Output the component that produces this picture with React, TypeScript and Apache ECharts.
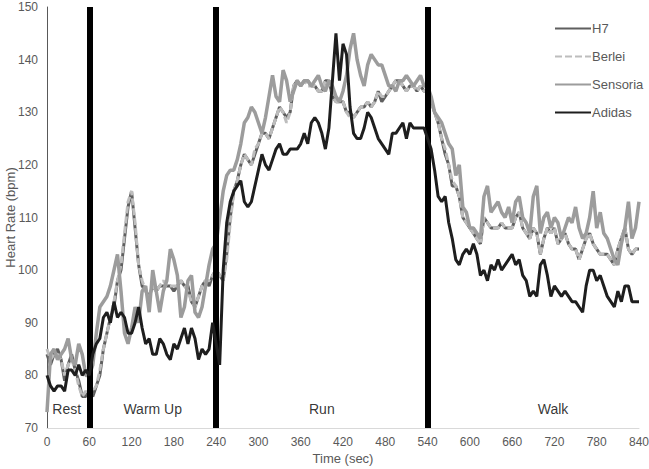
import React, { useEffect, useRef } from "react";
import * as echarts from "echarts";

// Samples every 5 seconds, one row per minute (12 values), then the final value at 840 s
const STEP = 5;

const h7 = [
  84, 82, 84, 85, 83, 79, 82, 84, 81, 79, 76, 76,
  77, 76, 78, 80, 85, 88, 91, 93, 98, 100, 106, 112,
  115, 108, 101, 97, 96, 95, 97, 96, 97, 97, 97, 97,
  96, 97, 98, 97, 97, 94, 93, 95, 97, 98, 97, 99,
  100, 99, 98, 103, 110, 115, 117, 120, 122, 121, 120, 122,
  124, 126, 126, 125, 127, 129, 131, 130, 129, 130, 135, 136,
  135, 136, 136, 135, 135, 134, 134, 136, 136, 133, 132, 132,
  132, 130, 130, 129, 130, 131, 131, 132, 131, 132, 134, 132,
  133, 134, 135, 136, 136, 135, 134, 135, 135, 134, 135, 134,
  134, 132, 130, 128, 125, 122, 120, 116, 116, 114, 110, 109,
  108, 107, 106, 105, 110, 109, 108, 108, 108, 109, 108, 108,
  108, 110, 111, 108, 107, 106, 108, 107, 103, 106, 108, 107,
  108, 105, 106, 107, 105, 104, 104, 102, 104, 106, 107, 105,
  104, 103, 103, 103, 102, 101, 104, 106, 108, 104, 103, 104,
  104,
];

const berlei = [
  85, 83, 84, 84, 83, 80, 82, 83, 81, 78, 76, 77,
  76, 77, 78, 81, 85, 88, 91, 94, 98, 101, 107, 113,
  115, 109, 101, 98, 96, 95, 97, 96, 97, 98, 97, 97,
  97, 97, 98, 97, 96, 94, 93, 95, 97, 98, 98, 99,
  100, 99, 98, 102, 109, 115, 117, 120, 122, 121, 120, 123,
  124, 126, 126, 125, 127, 129, 131, 130, 128, 130, 135, 136,
  135, 136, 135, 135, 135, 134, 134, 136, 136, 133, 132, 132,
  132, 130, 129, 129, 130, 131, 131, 132, 131, 132, 134, 133,
  133, 134, 135, 136, 136, 135, 134, 135, 135, 134, 135, 134,
  134, 132, 130, 128, 125, 123, 120, 117, 116, 114, 110, 109,
  108, 107, 106, 105, 110, 109, 108, 108, 108, 109, 108, 108,
  108, 110, 111, 108, 107, 106, 108, 107, 103, 106, 108, 107,
  108, 105, 106, 107, 105, 104, 104, 102, 104, 106, 107, 105,
  104, 103, 103, 103, 102, 101, 104, 106, 108, 104, 103, 104,
  104,
];

const sensoria = [
  73, 84, 85, 83, 84, 85, 87, 83, 82, 86, 84, 80,
  80, 82, 88, 93, 94, 95, 97, 100, 103, 96, 88, 86,
  89, 93, 90, 96, 97, 92, 100, 96, 92, 96, 98, 104,
  102, 99, 91, 93, 98, 99, 92, 91, 93, 97, 101, 104,
  105, 110, 115, 118, 119, 119, 121, 124, 128, 129, 131, 130,
  128, 126, 129, 133, 137, 133, 132, 138, 136, 132, 134, 136,
  135, 136, 136, 135, 136, 137, 135, 134, 136, 135, 133, 132,
  134, 137, 142, 145, 140, 137, 135, 139, 141, 140, 139, 139,
  137, 135, 135, 134, 136, 136, 137, 136, 135, 136, 137, 135,
  135, 133, 130, 129, 128, 126, 124, 123, 118, 120, 112, 111,
  108, 108, 107, 106, 114, 116, 111, 112, 113, 111, 110, 112,
  109, 113, 114, 110, 109, 107, 114, 116, 107, 110, 111, 108,
  110, 109, 106, 108, 110, 109, 112, 108, 106, 107, 110, 115,
  108, 111, 107, 106, 104, 102, 101, 105, 108, 113, 106, 108,
  113,
];

const adidas = [
  80, 78, 77, 78, 78, 77, 81, 81, 80, 82, 80, 81,
  80, 84, 86, 87, 91, 92, 90, 94, 91, 92, 91, 88,
  88, 90, 93, 89, 86, 87, 84, 84, 87, 86, 84, 83,
  86, 85, 87, 89, 86, 89, 87, 83, 85, 84, 85, 90,
  86, 82, 100, 109, 113, 115, 116, 117, 113, 112, 113, 116,
  119, 122, 120, 119, 121, 123, 124, 122, 122, 123, 123, 123,
  124, 126, 124, 128, 129, 128, 126, 123, 127, 136, 145, 136,
  143, 141, 131, 126, 125, 125, 127, 130, 129, 127, 125, 124,
  123, 122, 126, 126, 127, 128, 125, 128, 127, 127, 127, 127,
  125, 123, 119, 114, 113, 114, 109, 106, 102, 101, 103, 104,
  103, 105, 103, 99, 100, 98, 101, 100, 102, 100, 101, 102,
  103, 101, 102, 99, 98, 95, 96, 95, 101, 102, 99, 95,
  97, 96, 95, 96, 95, 94, 94, 93, 92, 97, 100, 100,
  98, 99, 97, 95, 94, 93, 96, 94, 97, 97, 94, 94,
  94,
];

const phaseBoundaries = [60, 240, 540];
const phaseNames = ["Rest", "Warm Up", "Run", "Walk"];
const phaseCenters = [28, 150, 390, 718];

const toPoints = (vals: number[]) => vals.map((v, i) => [i * STEP, v]);

const FONT = "Liberation Sans, Arial, sans-serif";

export default function App() {
  const ref = useRef<HTMLDivElement>(null);
  useEffect(() => {
    if (!ref.current) return;
    const chart = echarts.init(ref.current, undefined, { renderer: "svg" });
    const lineBase = {
      type: "line" as const,
      symbol: "none",
      showSymbol: false,
      smooth: false,
    };
    chart.setOption({
      animation: false,
      textStyle: { fontFamily: FONT },
      grid: { left: 47, right: 10, top: 7, bottom: 41, outerBoundsMode: "none", containLabel: false },
      legend: {
        orient: "vertical",
        left: 549,
        top: 17,
        itemWidth: 36,
        itemHeight: 14,
        itemGap: 15,
        itemStyle: { opacity: 0 },
        textStyle: { color: "#595959", fontSize: 13, fontFamily: FONT, padding: [0, 0, 0, -4] },
        data: ["H7", "Berlei", "Sensoria", "Adidas"],
      },
      xAxis: {
        type: "value",
        min: 0,
        max: 840,
        interval: 60,
        name: "Time (sec)",
        nameLocation: "middle",
        nameGap: 24,
        nameMoveOverlap: false,
        nameTextStyle: { color: "#595959", fontSize: 13, fontFamily: FONT },
        axisLine: { show: true, lineStyle: { color: "#d9d9d9", width: 1 } },
        axisTick: { show: false },
        splitLine: { show: false },
        axisLabel: { color: "#595959", fontSize: 12, margin: 8, fontFamily: FONT },
      },
      yAxis: {
        type: "value",
        min: 70,
        max: 150,
        interval: 10,
        name: "Heart Rate (bpm)",
        nameLocation: "middle",
        nameGap: 30,
        nameMoveOverlap: false,
        nameTextStyle: { color: "#595959", fontSize: 13, fontFamily: FONT },
        axisLine: { show: true, lineStyle: { color: "#595959", width: 1 } },
        axisTick: { show: false },
        splitLine: { show: false },
        axisLabel: { color: "#595959", fontSize: 12, margin: 9, fontFamily: FONT },
      },
      series: [
        {
          ...lineBase,
          name: "H7",
          data: toPoints(h7),
          lineStyle: { color: "#5f5f5f", width: 3 },
          itemStyle: { color: "#5f5f5f" },
          z: 2,
        },
        {
          ...lineBase,
          name: "Berlei",
          data: toPoints(berlei),
          lineStyle: { color: "#bdbdbd", width: 3, type: [7, 3] },
          itemStyle: { color: "#bdbdbd" },
          z: 3,
        },
        {
          ...lineBase,
          name: "Sensoria",
          data: toPoints(sensoria),
          lineStyle: { color: "#9c9c9c", width: 3.5 },
          itemStyle: { color: "#9c9c9c" },
          z: 4,
        },
        {
          ...lineBase,
          name: "Adidas",
          data: toPoints(adidas),
          lineStyle: { color: "#1e1e1e", width: 3 },
          itemStyle: { color: "#1e1e1e" },
          z: 5,
        },
        {
          type: "line",
          name: "phases",
          data: [],
          z: 10,
          silent: true,
          markLine: {
            silent: true,
            symbol: "none",
            label: { show: false },
            lineStyle: { color: "#000000", width: 6, type: "solid" },
            data: phaseBoundaries.map((b) => ({ xAxis: b })),
          },
        },
        {
          type: "scatter",
          name: "labels",
          symbolSize: 0,
          silent: true,
          z: 11,
          data: phaseNames.map((n, i) => ({ value: [phaseCenters[i], 73.6], name: n })),
          label: {
            show: true,
            position: "inside",
            formatter: (p: any) => p.name,
            color: "#000000",
            fontSize: 14,
            fontFamily: FONT,
          },
        },
      ],
    });
    return () => chart.dispose();
  }, []);
  return <div ref={ref} style={{ width: 649, height: 469, position: "absolute", left: 0, top: 0 }} />;
}
